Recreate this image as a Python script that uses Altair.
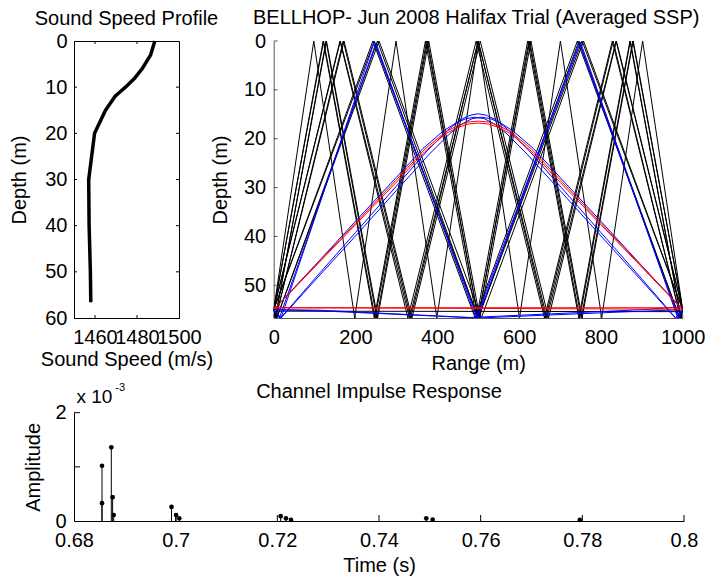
import altair as alt
import pandas as pd

FONT = "Liberation Sans"
FS = 20

# ---------------- data ----------------
# Sound speed profile
ssp_depth = [0, 3, 6, 8, 10, 11, 12, 15, 20, 30, 40, 50, 56.6]
ssp_speed = [1488.5, 1486.5, 1482.5, 1479.0, 1474.5, 1472.0, 1469.5, 1465.0, 1459.8, 1457.0, 1457.2, 1457.8, 1458.0]
ssp_x_ticks = [1460, 1480, 1500]
ssp_y_ticks = [0, 10, 20, 30, 40, 50, 60]

# Ray paths (range m, depth m); S = surface, B = bottom, Z = source/receiver depth
S, B, Z = 0.0, 56.7, 55.0
black_rays = [
    ([0, 246, 500, 754, 1000], [Z, S, B, S, Z]),
    ([0, 7.5, 257.5, 507.5, 757.5, 1000], [Z, B, S, B, S, Z]),
    ([0, 242.5, 492.5, 742.5, 992.5, 1000], [Z, S, B, S, B, Z]),
    ([0, 7.4, 253.7, 500, 746.3, 992.6, 1000], [Z, B, S, B, S, B, Z]),
    ([0, 163, 332, 500, 668, 837, 1000], [Z, S, B, S, B, S, Z]),
    ([0, 5, 172, 338, 505, 672, 838, 1000], [Z, B, S, B, S, B, S, Z]),
    ([0, 162, 328, 495, 662, 828, 995, 1000], [Z, S, B, S, B, S, B, Z]),
    ([0, 5, 170, 335, 500, 665, 830, 995, 1000], [Z, B, S, B, S, B, S, B, Z]),
    ([0, 122, 248, 374, 500, 626, 752, 878, 1000], [Z, S, B, S, B, S, B, S, Z]),
    ([0, 4, 129, 254, 379, 504, 629, 754, 879, 1000], [Z, B, S, B, S, B, S, B, S, Z]),
    ([0, 121, 246, 371, 496, 621, 746, 871, 996, 1000], [Z, S, B, S, B, S, B, S, B, Z]),
    ([0, 4, 128, 252, 376, 500, 624, 748, 872, 996, 1000], [Z, B, S, B, S, B, S, B, S, B, Z]),
    ([0, 98, 198, 299, 399, 500, 601, 701, 802, 902, 1000], [Z, S, B, S, B, S, B, S, B, S, Z]),
    ([0, 1000], [55.3, 55.4]),
]
blue_rays = [
    ([0, 18, 246, 498, 750, 988, 1000], [Z, B, 0.2, B, 0.2, B, Z]),
    ([0, 14, 250, 495, 747, 990, 1000], [Z, B, 0.4, B, 0.4, B, Z]),
    ([0, 18, 100, 200, 300, 380, 430, 460, 485, 508, 530, 555, 585, 635, 700, 800, 900, 1000],
     [Z, B, 49.1, 39.9, 30.6, 23.2, 19.0, 17.0, 15.9, 15.6, 15.9, 16.8, 18.4, 22.0, 27.9, 36.9, 46.0, Z]),
    ([0, 100, 200, 300, 365, 415, 445, 470, 492, 515, 540, 570, 620, 700, 800, 900, 982, 1000],
     [Z, 46.0, 36.9, 27.9, 22.0, 18.4, 16.8, 15.9, 15.6, 15.9, 17.0, 19.0, 23.2, 30.6, 39.9, 49.1, B, Z]),
    ([0, 17, 100, 200, 300, 375, 425, 455, 480, 500, 520, 545, 575, 625, 700, 800, 900, 983, 1000],
     [Z, B, 48.7, 39.2, 29.7, 22.5, 18.3, 16.2, 15.2, 14.9, 15.2, 16.2, 18.3, 22.5, 29.7, 39.2, 48.7, B, Z]),
    ([0, 130, 500, 870, 1000], [55.0, 55.3, 56.7, 55.4, 55.0]),
    ([0, 110, 480, 900, 1000], [55.0, 55.1, 56.6, 55.0, 54.4]),
]
red_rays = [
    ([0, 100, 200, 300, 370, 420, 450, 475, 500, 525, 550, 580, 630, 700, 800, 900, 1000],
     [Z, 46.1, 37.3, 28.4, 22.1, 18.6, 17.3, 16.6, 16.4, 16.6, 17.3, 18.6, 22.1, 28.4, 37.3, 46.1, Z]),
    ([0, 100, 200, 300, 370, 420, 450, 475, 500, 525, 550, 580, 630, 700, 800, 900, 1000],
     [Z, 46.3, 37.6, 28.9, 22.6, 19.0, 17.7, 17.0, 16.8, 17.0, 17.7, 19.0, 22.6, 28.9, 37.6, 46.3, Z]),
    ([0, 1000], [54.6, 54.6]),
    ([0, 390, 1000], [54.6, 54.7, 54.9]),
]
ray_x_ticks = [0, 200, 400, 600, 800, 1000]
ray_y_ticks = [0, 10, 20, 30, 40, 50]

# Channel impulse response (time s, amplitude x 1e-3)
arr_time = [0.68551, 0.68551, 0.68734, 0.68760, 0.68781, 0.69918, 0.70008, 0.70071,
            0.72066, 0.72170, 0.72269, 0.74930, 0.75056, 0.77950]
arr_amp = [1.02, 0.33, 1.36, 0.44, 0.11, 0.26, 0.11, 0.05, 0.09, 0.05, 0.02, 0.05, 0.025, 0.02]
imp_x_ticks = [0.68, 0.70, 0.72, 0.74, 0.76, 0.78, 0.80]
imp_y_ticks = [0, 1, 2]

# ---------------- helpers ----------------
def rays_df(rays):
    rows = []
    for k, (rr, zz) in enumerate(rays):
        for j, (r, z) in enumerate(zip(rr, zz)):
            rows.append({"ray": k, "j": j, "range": r, "depth": z})
    return pd.DataFrame(rows)


def axis(**kw):
    base = dict(labelFont=FONT, labelFontSize=FS, labelColor="black",
                titleFont=FONT, titleFontSize=FS, titleFontWeight="normal", titleColor="black",
                ticks=False, tickSize=0, grid=False, labelFlush=False, labelOverlap=False,
                domainColor="black", domainWidth=1)
    base.update(kw)
    return alt.Axis(**base)


def text(txt, x, y, size=FS, align="center"):
    return alt.Chart(pd.DataFrame({"txt": [txt]})).mark_text(
        font=FONT, fontSize=size, align=align, baseline="alphabetic", color="black"
    ).encode(text="txt:N", x=alt.value(x), y=alt.value(y))


def vticks(vals, field, scale, y0, y1, color="black"):
    return alt.Chart(pd.DataFrame({field: vals})).mark_rule(color=color, strokeWidth=1).encode(
        x=alt.X(f"{field}:Q", scale=scale), y=alt.value(y0), y2=alt.value(y1))


def hticks(vals, field, scale, x0, x1, color="black"):
    return alt.Chart(pd.DataFrame({field: vals})).mark_rule(color=color, strokeWidth=1).encode(
        y=alt.Y(f"{field}:Q", scale=scale), x=alt.value(x0), x2=alt.value(x1))


# ---------------- sound speed profile ----------------
W1, H1 = 105, 277
sx1 = alt.Scale(domain=[1450, 1500], nice=False, zero=False)
sy1 = alt.Scale(domain=[0, 60], reverse=True, nice=False, zero=False)
ssp_df = pd.DataFrame({"speed": ssp_speed, "depth": ssp_depth, "i": list(range(len(ssp_depth)))})
ssp_line = alt.Chart(ssp_df).mark_line(color="black", strokeWidth=3.5, strokeCap="butt", strokeJoin="round").encode(
    x=alt.X("speed:Q", scale=sx1, axis=axis(values=ssp_x_ticks, format="d", title="Sound Speed (m/s)",
                                             titleY=41, titleBaseline="middle", labelPadding=9)),
    y=alt.Y("depth:Q", scale=sy1, axis=axis(values=ssp_y_ticks, format="d", title="Depth (m)",
                                             titleX=-55, titleY=H1 / 2, titleBaseline="middle", labelPadding=7)),
    order="i:Q",
)
ssp = alt.layer(
    ssp_line,
    vticks(ssp_x_ticks[:-1], "speed", sx1, H1 - 3, H1),
    vticks(ssp_x_ticks[:-1], "speed", sx1, 0, 3),
    hticks(ssp_y_ticks[1:-1], "depth", sy1, 0, 3),
    hticks(ssp_y_ticks[1:-1], "depth", sy1, W1 - 3, W1),
    text("Sound Speed Profile", W1 / 2, -15.7),
).properties(width=W1, height=H1, view=alt.ViewBackground(stroke="black", strokeWidth=1))

# ---------------- ray plot ----------------
W2, H2 = 409, 277
GREY = "#555555"
sx2 = alt.Scale(domain=[0, 1000], nice=False, zero=False)
sy2 = alt.Scale(domain=[0, 56.7], reverse=True, nice=False, zero=False)


def ray_layer(rays, color, first=False):
    enc = dict(
        x=alt.X("range:Q", scale=sx2),
        y=alt.Y("depth:Q", scale=sy2),
        detail="ray:N",
        order="j:Q",
    )
    if first:
        enc["x"] = alt.X("range:Q", scale=sx2, axis=axis(values=ray_x_ticks, format="d", title="Range (m)",
                                                        titleY=45, titleBaseline="middle", labelPadding=9,
                                                        domainColor=GREY))
        enc["y"] = alt.Y("depth:Q", scale=sy2, axis=axis(values=ray_y_ticks, format="d", title="Depth (m)",
                                                        titleX=-53.5, titleY=H2 / 2, titleBaseline="middle",
                                                        labelPadding=8, domainColor=GREY))
    return alt.Chart(rays_df(rays)).mark_line(color=color, strokeWidth=1, clip=True).encode(**enc)


rays_chart = alt.layer(
    ray_layer(black_rays, "#000000", first=True),
    ray_layer(blue_rays, "#0000ff"),
    ray_layer(red_rays, "#ff0000"),
    vticks(ray_x_ticks, "range", sx2, H2 - 4, H2, GREY),
    hticks(ray_y_ticks, "depth", sy2, 0, 4, GREY),
    text("BELLHOP- Jun 2008 Halifax Trial (Averaged SSP)", W2 / 2 - 2, -16.7),
).properties(width=W2, height=H2)

# ---------------- impulse response ----------------
W3, H3 = 610, 108.3
sx3 = alt.Scale(domain=[0.68, 0.8], nice=False, zero=False)
sy3 = alt.Scale(domain=[0, 2], nice=False, zero=False)
imp_df = pd.DataFrame({"t": arr_time, "amp": arr_amp, "base": [0.0] * len(arr_time)})
stems = alt.Chart(imp_df).mark_rule(color="black", strokeWidth=1).encode(
    x=alt.X("t:Q", scale=sx3, axis=axis(values=imp_x_ticks, format="~g", title="Time (s)",
                                         titleY=44.5, titleBaseline="middle", labelPadding=9)),
    y=alt.Y("amp:Q", scale=sy3, axis=axis(values=imp_y_ticks, format="d", title="Amplitude",
                                           titleX=-41, titleY=H3 / 2, titleBaseline="middle", labelPadding=8)),
    y2="base:Q",
)
dots = alt.Chart(imp_df).mark_circle(color="black", size=22, opacity=1).encode(
    x=alt.X("t:Q", scale=sx3), y=alt.Y("amp:Q", scale=sy3))
imp = alt.layer(
    stems,
    dots,
    vticks(imp_x_ticks[1:], "t", sx3, H3 - 6, H3),
    hticks(imp_y_ticks[1:], "amp", sy3, 0, 6),
    text("Channel Impulse Response", W3 / 2, -15),
    text("x 10", 2.5, -10, size=19, align="left"),
    text("-3", 41.3, -21.7, size=11, align="left"),
).properties(width=W3, height=H3)

# flush bounds: nested group counts as zero height, so the spacing spans the top row's plot height too
top = alt.hconcat(ssp, rays_chart, spacing=94.7, bounds="flush")
chart = alt.vconcat(top, imp, spacing=H1 + 94.7, bounds="flush").properties(
    padding={"left": 0, "top": 0, "right": 0, "bottom": 0}
).configure_view(strokeWidth=0)

chart.save("out.html", embed_options={"renderer": "svg", "actions": False})
